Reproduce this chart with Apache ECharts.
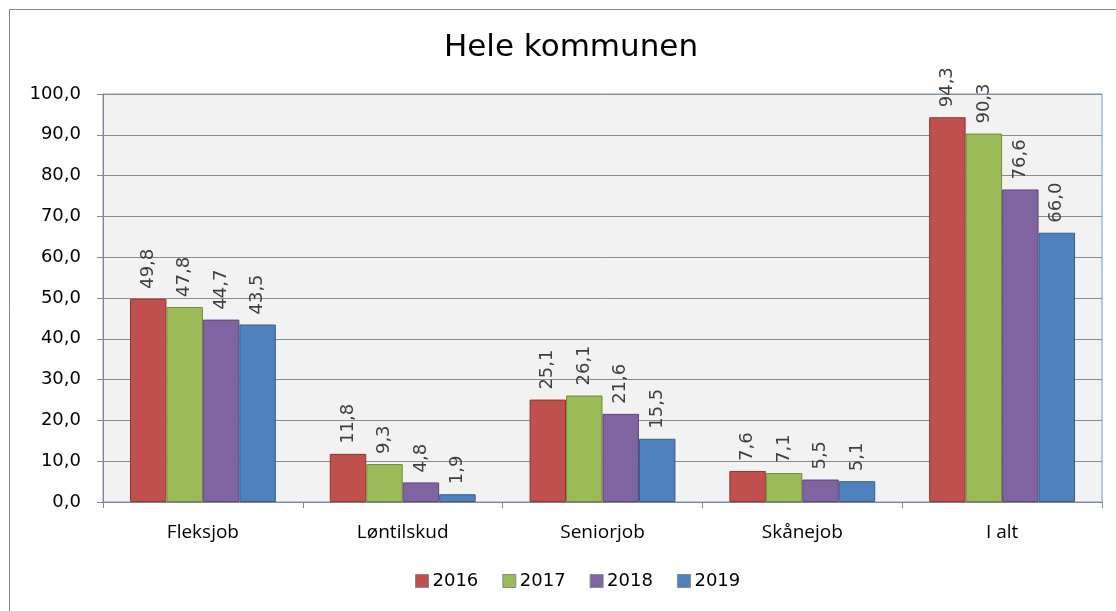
<!DOCTYPE html>
<html><head><meta charset="utf-8">
<script src="https://cdn.jsdelivr.net/npm/echarts@6/dist/echarts.min.js"></script>
<style>html,body{margin:0;padding:0;background:#fff}#c{width:1116px;height:611px}</style>
</head><body><div id="c"></div>
<script>
const categories = ['Fleksjob', 'Løntilskud', 'Seniorjob', 'Skånejob', 'I alt'];
const years = ['2016', '2017', '2018', '2019'];
const v2016 = [49.8, 11.8, 25.1, 7.6, 94.3];
const v2017 = [47.8, 9.3, 26.1, 7.1, 90.3];
const v2018 = [44.7, 4.8, 21.6, 5.5, 76.6];
const v2019 = [43.5, 1.9, 15.5, 5.1, 66.0];
const seriesValues = [v2016, v2017, v2018, v2019];
const colors = ['#c0504d', '#9bbb59', '#8064a2', '#4f81bd'];
const borders = ['#8c3836', '#71893f', '#5c4776', '#385d8a'];
const fmt = v => Number(v).toFixed(1).replace('.', ',');
const FONT = 'DejaVu Sans';
const chart = echarts.init(document.getElementById('c'));
chart.setOption({
  animation: false,
  textStyle: { fontFamily: FONT },
  title: { text: 'Hele kommunen', left: 566, textAlign: 'center', top: 27, textStyle: { fontFamily: FONT, fontSize: 31, fontWeight: 'normal', color: '#000' } },
  graphic: [{ type: 'rect', shape: { x: 9.5, y: 9.5, width: 1200, height: 700 }, style: { fill: 'none', stroke: '#868686', lineWidth: 1 }, silent: true, z: -10 }],
  grid: { left: 103, right: 14, top: 94, bottom: 109, show: true, backgroundColor: '#f2f2f2', borderColor: '#6d9ad6', borderWidth: 1 },
  legend: { top: 567, left: 410, itemWidth: 13, itemHeight: 13, itemGap: 24, icon: 'rect',
    itemStyle: { borderColor: '#8a8a8a', borderWidth: 1 },
    textStyle: { fontFamily: FONT, fontSize: 18, color: '#000', padding: [0, 0, 0, -1] } },
  xAxis: { type: 'category', data: categories,
    axisLine: { lineStyle: { color: '#868686' } },
    axisTick: { show: true, length: 6, lineStyle: { color: '#868686' } },
    axisLabel: { fontFamily: 'Open Sans', fontSize: 19, color: '#000', margin: 21 } },
  yAxis: { type: 'value', min: 0, max: 100, interval: 10,
    axisLine: { show: true, lineStyle: { color: '#868686' } },
    axisTick: { show: true, length: 6, lineStyle: { color: '#868686' } },
    splitLine: { lineStyle: { color: '#8c8c8c' } },
    axisLabel: { fontFamily: FONT, fontSize: 18, color: '#000', margin: 22, formatter: fmt } },
  series: years.map((y, i) => ({
    name: y, type: 'bar', data: seriesValues[i], barGap: '0%', barCategoryGap: '27%',
    itemStyle: { color: colors[i], borderColor: borders[i], borderWidth: 1 },
    label: { show: true, position: 'top', rotate: 90, align: 'left', verticalAlign: 'middle', distance: 10,
      fontFamily: FONT, fontSize: 18, color: '#404040', formatter: p => fmt(p.value) }
  }))
});
</script></body></html>
